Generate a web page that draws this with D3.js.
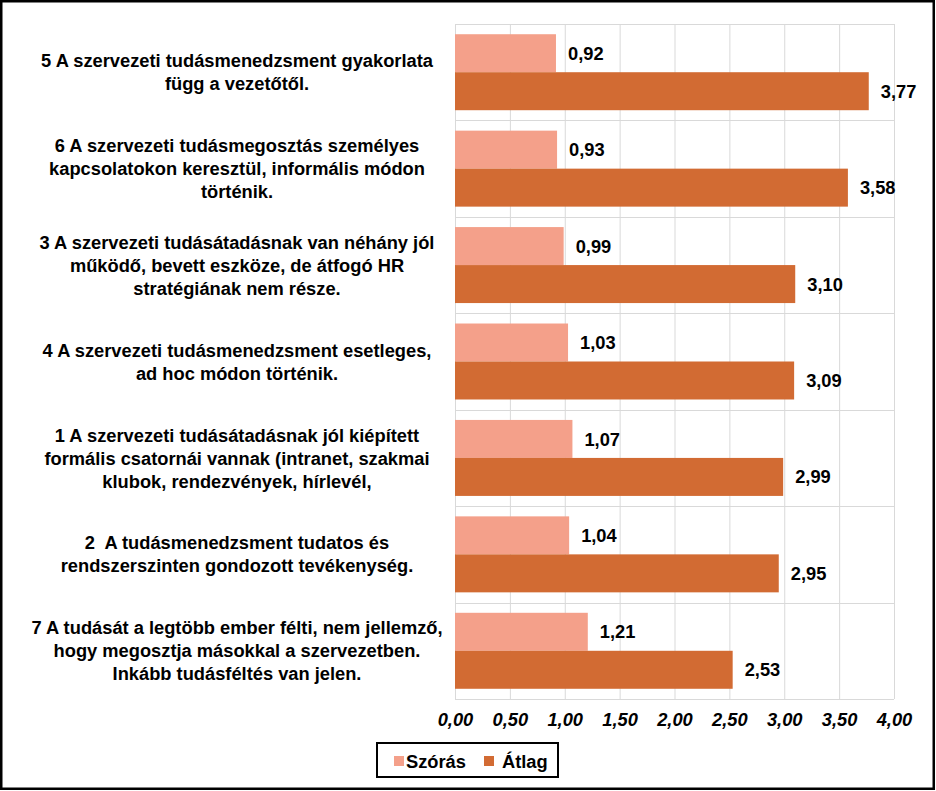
<!DOCTYPE html>
<html>
<head>
<meta charset="utf-8">
<script src="https://cdn.jsdelivr.net/npm/d3@7"></script>
<style>
  html, body { margin: 0; padding: 0; background: #fff; }
  svg { display: block; font-family: "Liberation Sans", Arial, sans-serif; }
  tspan { white-space: pre; }
</style>
</head>
<body>
<svg id="chart" width="936" height="791"></svg>
<script>
// ---- data ----
const categories = [
  ["5 A szervezeti tudásmenedzsment gyakorlata", "függ a vezetőtől."],
  ["6 A szervezeti tudásmegosztás személyes", "kapcsolatokon keresztül, informális módon", "történik."],
  ["3 A szervezeti tudásátadásnak van néhány jól", "működő, bevett eszköze, de átfogó HR", "stratégiának nem része."],
  ["4 A szervezeti tudásmenedzsment esetleges,", "ad hoc módon történik."],
  ["1 A szervezeti tudásátadásnak jól kiépített", "formális csatornái vannak (intranet, szakmai", "klubok, rendezvények, hírlevél,"],
  ["2  A tudásmenedzsment tudatos és", "rendszerszinten gondozott tevékenység."],
  ["7 A tudását a legtöbb ember félti, nem jellemző,", "hogy megosztja másokkal a szervezetben.", "Inkább tudásféltés van jelen."]
];
const seriesNames = ["Szórás", "Átlag"];
const szoras = [0.92, 0.93, 0.99, 1.03, 1.07, 1.04, 1.21];
const atlag  = [3.77, 3.58, 3.10, 3.09, 2.99, 2.95, 2.53];
const xTicks = [0, 0.5, 1, 1.5, 2, 2.5, 3, 3.5, 4];
const colors = ["#F4A08A", "#D26B33"];

// ---- layout ----
const svg = d3.select("#chart");
const W = 936, H = 791;
const plot = { left: 455, right: 894, top: 24, bottom: 699 };
const FS = 18.3;

const fmt = v => d3.format(".2f")(v).replace(".", ",");

const x = d3.scaleLinear().domain([0, 4]).range([plot.left, plot.right]);
const idx = d3.range(categories.length);
const y = d3.scaleBand().domain(idx).range([plot.top, plot.bottom])
  .paddingInner(0.212).paddingOuter(0.106);
const ySub = d3.scaleBand().domain(seriesNames).range([0, y.bandwidth()]);
const step = (plot.bottom - plot.top) / categories.length;

// outer border
svg.append("rect").attr("x", 1.25).attr("y", 1.25).attr("width", W - 3.5).attr("height", H - 3.5)
  .attr("fill", "#fff").attr("stroke", "#000").attr("stroke-width", 2.5);

// grid: vertical lines via axis
const gx = svg.append("g").attr("transform", `translate(0,${plot.bottom})`)
  .call(d3.axisBottom(x).tickValues(xTicks).tickSize(-(plot.bottom - plot.top)).tickFormat(fmt));
gx.select(".domain").remove();
gx.selectAll(".tick line").attr("stroke", "#D9D9D9").attr("stroke-width", 1);
gx.selectAll(".tick text")
  .attr("y", 27).attr("dy", "0")
  .attr("font-size", FS).attr("font-weight", "bold").attr("font-style", "italic")
  .attr("fill", "#000").attr("font-family", '"Liberation Sans", Arial, sans-serif');

// horizontal category separators
const hLines = d3.range(categories.length + 1).map(i => plot.top + i * step);
svg.append("g").selectAll("line").data(hLines).join("line")
  .attr("x1", plot.left).attr("x2", plot.right)
  .attr("y1", d => Math.round(d) + 0.5).attr("y2", d => Math.round(d) + 0.5)
  .attr("stroke", "#D9D9D9").attr("stroke-width", 1);

// bars
const data = idx.map(i => ({ i, vals: [szoras[i], atlag[i]] }));
const groups = svg.append("g").selectAll("g").data(data).join("g")
  .attr("transform", d => `translate(0,${y(d.i)})`);

groups.selectAll("rect").data(d => d.vals.map((v, k) => ({ v, k }))).join("rect")
  .attr("x", x(0))
  .attr("y", d => ySub(seriesNames[d.k]))
  .attr("width", d => x(d.v) - x(0))
  .attr("height", ySub.bandwidth())
  .attr("fill", d => colors[d.k]);

groups.selectAll("text.val").data(d => d.vals.map((v, k) => ({ v, k }))).join("text")
  .attr("class", "val")
  .attr("x", d => x(d.v) + 12)
  .attr("y", d => ySub(seriesNames[d.k]) + ySub.bandwidth() / 2)
  .attr("dy", "0.36em")
  .attr("font-size", FS).attr("font-weight", "bold").attr("fill", "#000")
  .text(d => fmt(d.v));

// category labels
const lineH = 23;
const lab = svg.append("g").selectAll("text").data(categories).join("text")
  .attr("text-anchor", "middle")
  .attr("font-size", FS).attr("font-weight", "bold").attr("fill", "#000");
lab.each(function(lines, i) {
  const cy = plot.top + (i + 0.5) * step;
  const t = d3.select(this);
  lines.forEach((ln, j) => {
    t.append("tspan").attr("x", 237)
      .attr("y", cy + (j - (lines.length - 1) / 2) * lineH)
      .attr("dy", "0.36em").text(ln);
  });
});

// legend
const leg = svg.append("g");
leg.append("rect").attr("x", 377).attr("y", 743).attr("width", 181).attr("height", 34)
  .attr("fill", "#fff").attr("stroke", "#000").attr("stroke-width", 2);
const legSq = [394, 484];
const legTx = [406, 502];
seriesNames.forEach((n, k) => {
  leg.append("rect").attr("x", legSq[k]).attr("y", 756).attr("width", 10).attr("height", 10)
    .attr("fill", colors[k]);
  leg.append("text").attr("x", legTx[k]).attr("y", 761).attr("dy", "0.36em")
    .attr("font-size", FS).attr("font-weight", "bold").attr("fill", "#000").text(n);
});
</script>
</body>
</html>
